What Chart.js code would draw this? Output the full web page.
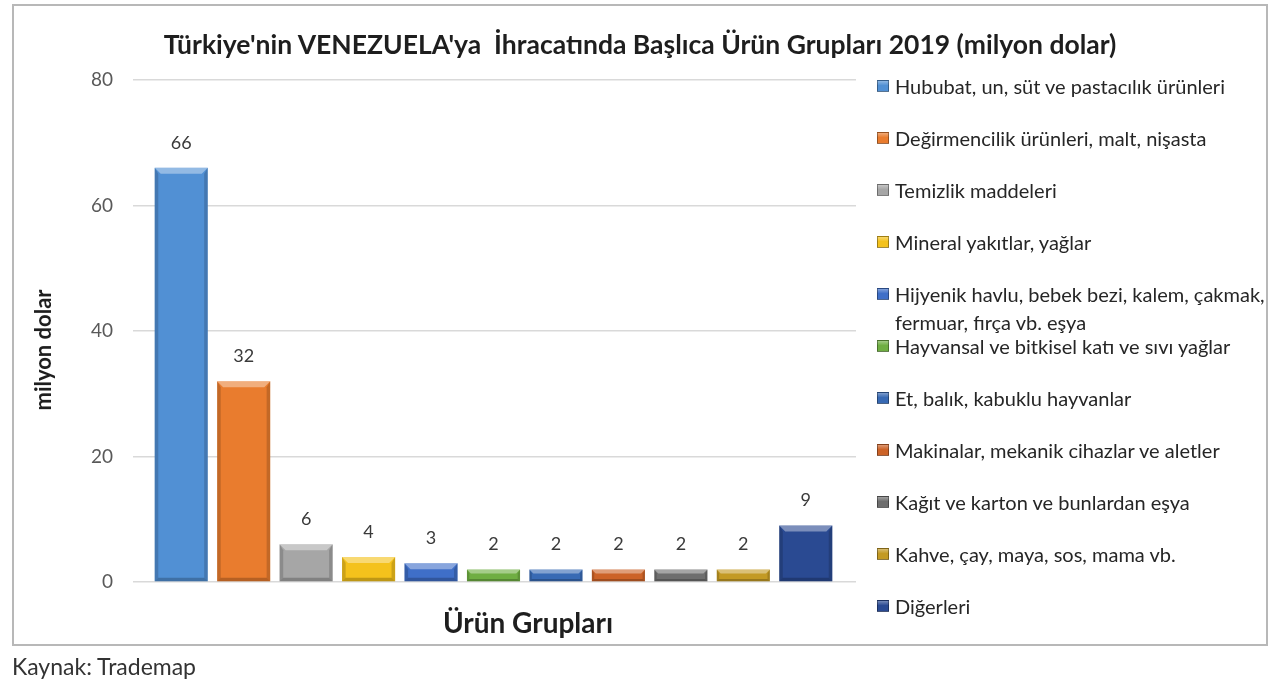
<!DOCTYPE html>
<html><head><meta charset="utf-8">
<script src="https://cdn.jsdelivr.net/npm/chart.js@4.4.1/dist/chart.umd.min.js"></script>
<style>
html,body{margin:0;padding:0;background:#fff;}
#wrap{position:relative;width:1280px;height:685px;overflow:hidden;font-family:Lato,'Open Sans',sans-serif;}
#frame{position:absolute;left:12px;top:4px;width:1256px;height:642px;border:2px solid #b8b8b8;box-sizing:border-box;}
#cv{position:absolute;left:0;top:0;}
#title{position:absolute;left:0;width:1280px;top:28px;line-height:32px;text-align:center;font-weight:bold;font-size:26.5px;color:#1e1e1e;white-space:pre;}
#ytitle{position:absolute;left:-57px;top:335px;width:200px;line-height:30px;text-align:center;font-weight:bold;font-size:22px;color:#1e1e1e;transform:rotate(-90deg);white-space:nowrap;}
#xtitle{position:absolute;left:328px;width:400px;top:605px;line-height:34px;text-align:center;font-weight:bold;font-size:28px;color:#1e1e1e;}
#source{position:absolute;left:12px;top:652px;line-height:28px;font-size:23px;color:#333;}
#legend{position:absolute;left:0;top:0;width:1280px;height:685px;pointer-events:none;}
.li{position:absolute;left:877px;font-size:20px;line-height:28px;color:#262626;white-space:nowrap;}
.li .sw{position:absolute;left:0;top:8px;width:12px;height:12px;box-sizing:border-box;border:1px solid rgba(0,0,0,0.35);}
.li .tx{position:absolute;left:18px;top:0;}
</style>
</head><body>
<div id="wrap">
  <div id="frame"></div>
  <canvas id="cv" width="1280" height="685"></canvas>
  <div id="title"></div>
  <div id="ytitle"></div>
  <div id="xtitle"></div>
  <div id="source"></div>
  <div id="legend"></div>
</div>
<script>
const chartTitle = "Türkiye'nin VENEZUELA'ya  İhracatında Başlıca Ürün Grupları 2019 (milyon dolar)";
const xAxisTitle = "Ürün Grupları";
const yAxisTitle = "milyon dolar";
const sourceText = "Kaynak: Trademap";
const categories = [
  "Hububat, un, süt ve pastacılık ürünleri",
  "Değirmencilik ürünleri, malt, nişasta",
  "Temizlik maddeleri",
  "Mineral yakıtlar, yağlar",
  ["Hijyenik havlu, bebek bezi, kalem, çakmak,", "fermuar, fırça vb. eşya"],
  "Hayvansal ve bitkisel katı ve sıvı yağlar",
  "Et, balık, kabuklu hayvanlar",
  "Makinalar, mekanik cihazlar ve aletler",
  "Kağıt ve karton ve bunlardan eşya",
  "Kahve, çay, maya, sos, mama vb.",
  "Diğerleri"
];
const values = [66, 32, 6, 4, 3, 2, 2, 2, 2, 2, 9];
const barColors = ["#5190d4", "#e97c2e", "#a6a6a6", "#f4c21c", "#3f6fc8", "#6fae42", "#386ab4", "#cc6328", "#6e6e6e", "#c39a24", "#2a4a92"];
const yMin = 0, yMax = 80, yStep = 20;

document.getElementById('title').textContent = chartTitle;
document.getElementById('ytitle').textContent = yAxisTitle;
document.getElementById('xtitle').textContent = xAxisTitle;
document.getElementById('source').textContent = sourceText;

const leg = document.getElementById('legend');
categories.forEach((c, i) => {
  const d = document.createElement('div');
  d.className = 'li';
  d.style.top = (86 + 52 * i - 14) + 'px';
  const sw = document.createElement('div');
  sw.className = 'sw';
  sw.style.background = 'linear-gradient(180deg, rgba(255,255,255,0.35), rgba(255,255,255,0) 45%), ' + barColors[i];
  const tx = document.createElement('div');
  tx.className = 'tx';
  tx.innerHTML = (Array.isArray(c) ? c : [c]).map(s => s.replace(/&/g,'&amp;').replace(/</g,'&lt;')).join('<br>');
  d.appendChild(sw); d.appendChild(tx);
  leg.appendChild(d);
});

const FONT = "Lato, 'Open Sans', sans-serif";

const valueLabels = {
  id: 'valueLabels',
  afterDatasetsDraw(chart) {
    const ctx = chart.ctx;
    const meta = chart.getDatasetMeta(0);
    ctx.save();
    ctx.font = '18px ' + FONT;
    ctx.fillStyle = '#3a3a3a';
    ctx.textAlign = 'center';
    ctx.textBaseline = 'middle';
    meta.data.forEach((bar, i) => {
      ctx.fillText(String(values[i]), bar.x, bar.y - 25);
    });
    ctx.restore();
  }
};

const bevel = {
  id: 'bevel',
  afterDatasetsDraw(chart) {
    const ctx = chart.ctx;
    const meta = chart.getDatasetMeta(0);
    ctx.save();
    meta.data.forEach((bar) => {
      const w = bar.width, l = bar.x - w / 2, r = bar.x + w / 2, t = bar.y, b = bar.base;
      const h = b - t;
      const e = Math.min(6, h / 3);
      ctx.fillStyle = 'rgba(255,255,255,0.38)';
      ctx.beginPath();
      ctx.moveTo(l, t); ctx.lineTo(r, t); ctx.lineTo(r - e, t + e); ctx.lineTo(l + e, t + e); ctx.closePath();
      ctx.fill();
      ctx.fillStyle = 'rgba(0,0,0,0.16)';
      ctx.beginPath();
      ctx.moveTo(l, t); ctx.lineTo(l + e * 0.6, t + e); ctx.lineTo(l + e * 0.6, b - e * 0.6); ctx.lineTo(l, b); ctx.closePath();
      ctx.fill();
      ctx.beginPath();
      ctx.moveTo(r, t); ctx.lineTo(r - e * 0.6, t + e); ctx.lineTo(r - e * 0.6, b - e * 0.6); ctx.lineTo(r, b); ctx.closePath();
      ctx.fill();
      ctx.fillStyle = 'rgba(0,0,0,0.22)';
      ctx.beginPath();
      ctx.moveTo(l, b); ctx.lineTo(r, b); ctx.lineTo(r - e * 0.6, b - e * 0.6); ctx.lineTo(l + e * 0.6, b - e * 0.6); ctx.closePath();
      ctx.fill();
    });
    ctx.restore();
  }
};

new Chart(document.getElementById('cv'), {
  type: 'bar',
  data: {
    labels: categories,
    datasets: [{
      data: values,
      backgroundColor: barColors,
      borderWidth: 0,
      barPercentage: 0.85,
      categoryPercentage: 1
    }]
  },
  options: {
    responsive: false,
    animation: false,
    layout: { padding: { left: 13, right: 424, top: 80, bottom: 103 } },
    plugins: { legend: { display: false }, tooltip: { enabled: false } },
    scales: {
      x: { display: false },
      y: {
        min: yMin, max: yMax,
        ticks: { stepSize: yStep, padding: 20, color: '#595959', font: { size: 19, family: FONT } },
        grid: { color: '#d9d9d9', lineWidth: 1.5, drawTicks: true, tickLength: 17, tickColor: '#d9d9d9' },
        border: { display: false },
        title: { display: false },
        afterFit(s) { s.width = 137; }
      },
      y2: {
        position: 'right',
        min: yMin, max: yMax,
        ticks: { stepSize: yStep, display: false },
        grid: { drawOnChartArea: false, drawTicks: true, tickLength: 19, color: '#d9d9d9', lineWidth: 1.5, tickColor: '#d9d9d9' },
        border: { display: false },
        afterFit(s) { s.width = 19; }
      }
    }
  },
  plugins: [valueLabels, bevel]
});
</script>
</body></html>
